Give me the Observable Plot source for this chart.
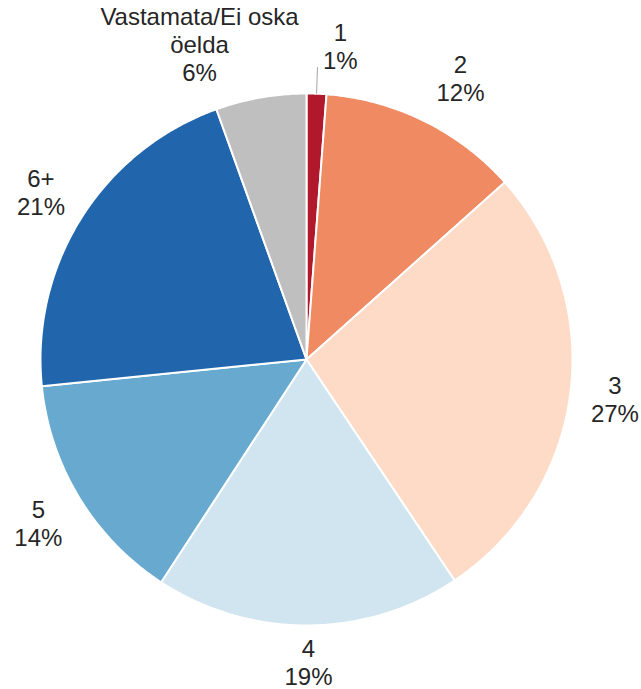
<!DOCTYPE html>
<html><head><meta charset="utf-8">
<script src="https://cdn.jsdelivr.net/npm/d3@7"></script>
<script src="https://cdn.jsdelivr.net/npm/@observablehq/plot@0.6"></script>
<style>body{margin:0;background:#fff}</style>
</head><body><div id="chart"></div>
<script>
// Data
const categories = ["1", "2", "3", "4", "5", "6+", "Vastamata/Ei oska öelda"];
const values = [1.2, 12.2, 27.2, 18.6, 14.2, 21.1, 5.5];
const percentLabels = ["1%", "12%", "27%", "19%", "14%", "21%", "6%"];
const colors = ["#b2182b", "#ef8a62", "#fddbc7", "#d1e5f0", "#67a9cf", "#2166ac", "#bfbfbf"];

// Layout
const W = 641, H = 689, CX = 306, CY = 359, R = 266;
const labelR = 1.18;
const nudgePx = {"1": [22, 0], "2": [15, 0], "3": [-3, 0], "4": [0, -11], "Vastamata/Ei oska öelda": [-53, -6]};

const total = d3.sum(values);
let acc = 0;
const slices = categories.map((c, i) => {
  const a0 = acc / total * 2 * Math.PI;
  acc += values[i];
  const a1 = acc / total * 2 * Math.PI;
  const mid = (a0 + a1) / 2;
  const n = nudgePx[c] || [0, 0];
  return {
    cat: c, a0, a1, mid, share: values[i] / total * 100,
    label: `${c}\n${percentLabels[i]}`,
    lx: labelR * Math.sin(mid) + n[0] / R,
    ly: -labelR * Math.cos(mid) + n[1] / R
  };
});

const pts = [];
for (const s of slices) {
  pts.push({cat: s.cat, x: 0, y: 0});
  const n = Math.max(2, Math.ceil((s.a1 - s.a0) / (Math.PI / 360)));
  for (let k = 0; k <= n; k++) {
    const a = s.a0 + (s.a1 - s.a0) * k / n;
    pts.push({cat: s.cat, x: Math.sin(a), y: -Math.cos(a)});
  }
}

const small = slices.filter(s => s.share < 3);

const chart = Plot.plot({
  width: W, height: H,
  margin: 0,
  style: {fontFamily: "'Liberation Sans', Arial, sans-serif", background: "#fff"},
  x: {domain: [-CX / R, (W - CX) / R], range: [0, W], axis: null},
  y: {domain: [-CY / R, (H - CY) / R], range: [0, H], axis: null},
  color: {domain: categories, range: colors, type: "ordinal"},
  marks: [
    Plot.line(pts, {x: "x", y: "y", z: "cat", fill: "cat", stroke: "white", strokeWidth: 2, curve: "linear-closed"}),
    Plot.link(small, {
      x1: d => Math.sin(d.mid), y1: d => -Math.cos(d.mid),
      x2: d => 1.1 * Math.sin(d.mid), y2: d => -1.1 * Math.cos(d.mid),
      stroke: "#a6a6a6", strokeWidth: 1
    }),
    Plot.text(slices, {
      x: "lx", y: "ly", text: "label",
      fontSize: 24, lineHeight: 1.17, lineWidth: 9,
      fill: "#262626", textAnchor: "middle", lineAnchor: "middle",
      fontFamily: "'Liberation Sans', Arial, sans-serif"
    })
  ]
});
document.getElementById("chart").append(chart);
</script>
</body></html>
